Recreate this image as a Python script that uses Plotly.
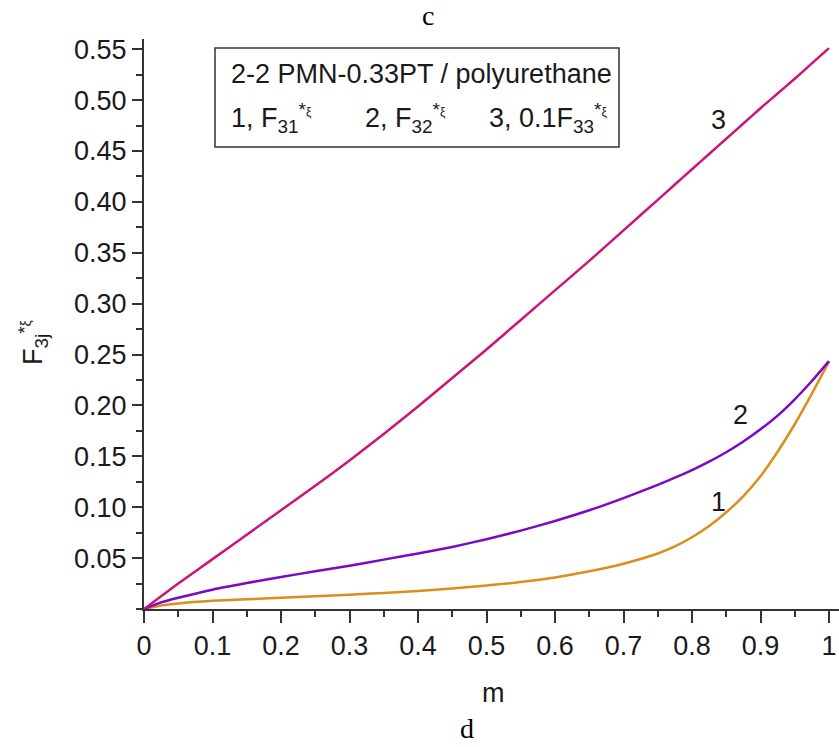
import plotly.graph_objects as go

# ---- data ----
m_vals = [0, 0.025, 0.05, 0.1, 0.15, 0.2, 0.25, 0.3, 0.35, 0.4, 0.45, 0.5,
          0.55, 0.6, 0.65, 0.7, 0.75, 0.775, 0.8, 0.825, 0.85, 0.875, 0.9, 0.925, 0.95, 0.975, 1.0]
F31 = [0, 0.0035, 0.0055, 0.008, 0.0095, 0.011, 0.0125, 0.014, 0.0158, 0.0178, 0.0202, 0.023,
       0.0265, 0.031, 0.037, 0.0445, 0.0545, 0.0615, 0.0705, 0.0815, 0.095, 0.111, 0.1305, 0.1545,
       0.1815, 0.2115, 0.243]
F32 = [0, 0.0065, 0.011, 0.019, 0.0255, 0.0315, 0.037, 0.0425, 0.0485, 0.0545, 0.061, 0.0685,
       0.077, 0.0865, 0.097, 0.109, 0.122, 0.129, 0.1365, 0.1448, 0.154, 0.1645, 0.1765, 0.190,
       0.206, 0.224, 0.2435]
F33_01 = [0, 0.0125, 0.025, 0.049, 0.073, 0.097, 0.121, 0.146, 0.172, 0.199, 0.227, 0.255,
          0.284, 0.313, 0.342, 0.372, 0.402, 0.417, 0.432, 0.447, 0.462, 0.477, 0.492, 0.5065,
          0.521, 0.536, 0.551]

x_tickvals = [0, 0.1, 0.2, 0.3, 0.4, 0.5, 0.6, 0.7, 0.8, 0.9, 1.0]
x_ticktext = ["0", "0.1", "0.2", "0.3", "0.4", "0.5", "0.6", "0.7", "0.8", "0.9", "1"]
y_tickvals = [0.05, 0.10, 0.15, 0.20, 0.25, 0.30, 0.35, 0.40, 0.45, 0.50, 0.55]
y_ticktext = ["0.05", "0.10", "0.15", "0.20", "0.25", "0.30", "0.35", "0.40", "0.45", "0.50", "0.55"]

COL1 = "#D98F1E"
COL2 = "#7A08C8"
COL3 = "#CC1478"
FONT = "Liberation Sans, Arial, sans-serif"
SERIF = "Liberation Serif, Times New Roman, serif"
TXT = "#1a1a1a"
FS = 27

W, H = 839, 747
L, R, T, B = 144, 0, 39, 138
PW, PH = W - L - R, H - T - B


def px(x):
    return (x - L) / PW


def py(y):
    return (H - B - y) / PH


fig = go.Figure()
for ys, col in [(F31, COL1), (F32, COL2), (F33_01, COL3)]:
    fig.add_trace(go.Scatter(x=m_vals, y=ys, mode="lines",
                             line=dict(color=col, width=2.5, shape="spline", smoothing=0.5),
                             showlegend=False, hoverinfo="skip"))

fig.update_layout(
    width=W, height=H, margin=dict(l=L, r=R, t=T, b=B),
    plot_bgcolor="white", paper_bgcolor="white",
    font=dict(family=FONT, size=FS, color=TXT),
    xaxis=dict(range=[0, 1.0146], tickvals=x_tickvals, ticktext=x_ticktext, showgrid=False, zeroline=False,
               showline=True, linecolor="#333", linewidth=2, ticks="outside", ticklen=12, tickwidth=2,
               tickcolor="#333", tickfont=dict(size=FS, family=FONT, color=TXT),
               minor=dict(ticks="outside", ticklen=6, tickwidth=2, tickcolor="#333", dtick=0.05, tick0=0)),
    yaxis=dict(range=[0, 0.56], tickvals=y_tickvals, ticktext=y_ticktext, showgrid=False, zeroline=False,
               showline=True, linecolor="#333", linewidth=2, ticks="outside", ticklen=10, tickwidth=2,
               tickcolor="#333", tickfont=dict(size=FS, family=FONT, color=TXT),
               minor=dict(ticks="outside", ticklen=6, tickwidth=2, tickcolor="#333", dtick=0.025, tick0=0)),
)

ann = []
# axis titles
ann.append(dict(x=px(493), y=py(693), xref="paper", yref="paper", text="m", showarrow=False,
                font=dict(size=FS, family=FONT, color=TXT), xanchor="center", yanchor="middle"))
ann.append(dict(x=px(33), y=py(343), xref="paper", yref="paper", textangle=-90,
                text="F<sub>3j</sub><sup>*<span style='font-size:14px'>ξ</span></sup>", showarrow=False,
                font=dict(size=FS, family=FONT, color=TXT), xanchor="center", yanchor="middle"))
# panel letters
ann.append(dict(x=px(428), y=py(15), xref="paper", yref="paper", text="c", showarrow=False,
                font=dict(size=28, family=SERIF, color="black"), xanchor="center", yanchor="middle"))
ann.append(dict(x=px(467), y=py(728), xref="paper", yref="paper", text="d", showarrow=False,
                font=dict(size=28, family=SERIF, color="black"), xanchor="center", yanchor="middle"))
# curve labels
for t, xx, yy in [("1", 718, 502), ("2", 740, 415), ("3", 718, 120)]:
    ann.append(dict(x=px(xx), y=py(yy), xref="paper", yref="paper", text=t, showarrow=False,
                    font=dict(size=FS, family=FONT, color=TXT), xanchor="center", yanchor="middle"))
# legend box text
ann.append(dict(x=px(229), y=py(74), xref="paper", yref="paper", text="2-2 PMN-0.33PT / polyurethane",
                showarrow=False, font=dict(size=FS, family=FONT, color=TXT), xanchor="left", yanchor="middle"))
sup = "<sup>*<span style='font-size:12px'>ξ</span></sup>"
for t, xx in [("1, F<sub>31</sub>" + sup, 229), ("2, F<sub>32</sub>" + sup, 363), ("3, 0.1F<sub>33</sub>" + sup, 487)]:
    ann.append(dict(x=px(xx), y=py(118), xref="paper", yref="paper", text=t, showarrow=False,
                    font=dict(size=FS, family=FONT, color=TXT), xanchor="left", yanchor="middle"))
fig.update_layout(annotations=ann)

fig.add_shape(type="rect", xref="paper", yref="paper", x0=px(215), x1=px(619), y0=py(48), y1=py(147),
              line=dict(color="#333", width=1.5), fillcolor="rgba(0,0,0,0)")

fig.write_html("out.html")
